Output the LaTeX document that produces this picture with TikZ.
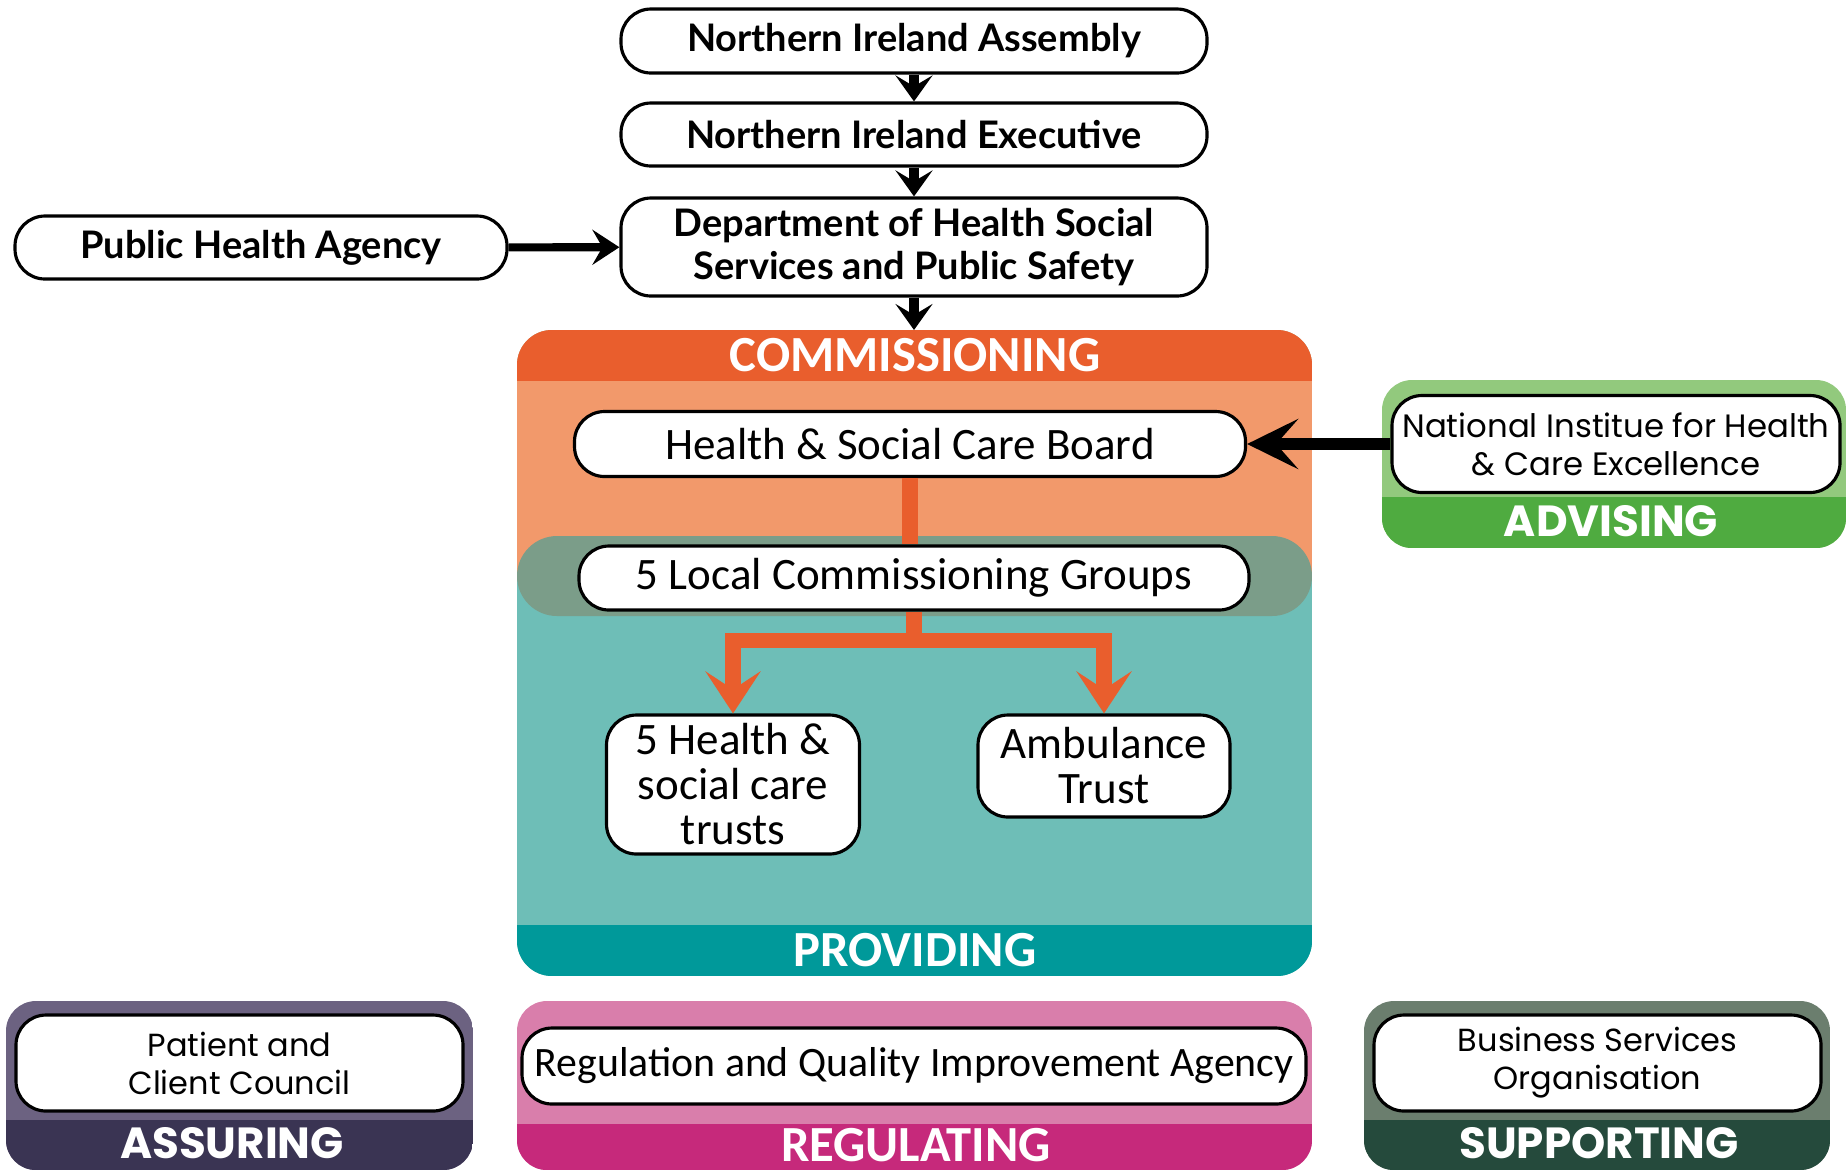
\documentclass[tikz,border=0pt]{standalone}
\usepackage{fontspec}
\setmainfont{Carlito}
\newfontfamily\latofont{Lato}
\newfontfamily\geofont{Poppins}
\usetikzlibrary{arrows.meta}
\usetikzlibrary{positioning}

\definecolor{commdark}{HTML}{E95E2D}
\definecolor{commlight}{HTML}{F2996B}
\definecolor{lcgband}{HTML}{7B9D89}
\definecolor{provlight}{HTML}{6EBEB7}
\definecolor{provdark}{HTML}{00999A}
\definecolor{advlight}{HTML}{92C97D}
\definecolor{advdark}{HTML}{4FAB40}
\definecolor{asslight}{HTML}{6C6281}
\definecolor{assdark}{HTML}{3A3453}
\definecolor{reglight}{HTML}{D97EAB}
\definecolor{regdark}{HTML}{C6297B}
\definecolor{suplight}{HTML}{6B7E6E}
\definecolor{supdark}{HTML}{254A3C}

\tikzset{
  topbox/.style={draw=black, line width=0.9pt, fill=white, rounded corners=0.3cm,
    minimum width=5.86cm, inner sep=0pt, align=center,
    font=\latofont\bfseries\fontsize{10.8}{12.3}\selectfont},
  orgbox/.style={draw=black, line width=0.9pt, fill=white, rounded corners=0.3cm,
    inner sep=0pt, align=center, font=\fontsize{12.8}{12.8}\selectfont},
  geobox/.style={orgbox, font=\geofont\fontsize{9.1}{10.8}\selectfont},
  bandtext/.style={text=white, inner sep=0pt, font=\bfseries\fontsize{14.4}{15}\selectfont},
  geoband/.style={text=white, inner sep=0pt, font=\geofont\bfseries\fontsize{12.4}{13}\selectfont},
  blackarr/.style={line width=2.6pt, -{Stealth[length=2.6mm, width=3.7mm, inset=1.1mm]}},
  sidearr/.style={line width=2.3pt, -{Stealth[length=2.7mm, width=3.5mm, inset=1mm]}},
  nicearr/.style={line width=3.6pt, -{Stealth[length=5.1mm, width=5mm, inset=2.2mm]}},
  orangeline/.style={draw=commdark, line width=4.3pt},
  orangearr/.style={orangeline, -{Stealth[length=4.2mm, width=5.5mm, inset=1.8mm]}}
}

\begin{document}
\begin{tikzpicture}
    \useasboundingbox (0,0) rectangle (18.48,-11.71);

    % commissioning / providing panel
    \begin{scope}
        \clip[rounded corners=0.35cm] (5.17,-3.30) rectangle (13.12,-9.76);
        \fill[provlight] (5.17,-3.30) rectangle (13.12,-9.76);
        \fill[commlight] (5.17,-3.30) rectangle (13.12,-5.76);
        \fill[commdark] (5.17,-3.30) rectangle (13.12,-3.81);
        \fill[provdark] (5.17,-9.25) rectangle (13.12,-9.76);
        \fill[lcgband, rounded corners=0.4cm] (5.17,-5.36) rectangle (13.12,-6.16);
    \end{scope}
    \coordinate (commtop) at (9.14,-3.30);
    \node (comm) at (9.15,-3.55) [bandtext] {COMMISSIONING};
    \node (prov) at (9.15,-9.50) [bandtext] {PROVIDING};

    % advising panel
    \begin{scope}
        \clip[rounded corners=0.3cm] (13.82,-3.80) rectangle (18.46,-5.48);
        \fill[advlight] (13.82,-3.80) rectangle (18.46,-5.48);
        \fill[advdark] (13.82,-4.97) rectangle (18.46,-5.48);
    \end{scope}
    \node (adv) at (16.11,-5.21) [geoband] {ADVISING};

    % bottom panels
    \begin{scope}
        \clip[rounded corners=0.3cm] (0.06,-10.01) rectangle (4.73,-11.70);
        \fill[asslight] (0.06,-10.01) rectangle (4.73,-11.70);
        \fill[assdark] (0.06,-11.20) rectangle (4.73,-11.70);
    \end{scope}
    \begin{scope}
        \clip[rounded corners=0.3cm] (5.17,-10.01) rectangle (13.12,-11.70);
        \fill[reglight] (5.17,-10.01) rectangle (13.12,-11.70);
        \fill[regdark] (5.17,-11.24) rectangle (13.12,-11.70);
    \end{scope}
    \begin{scope}
        \clip[rounded corners=0.3cm] (13.64,-10.01) rectangle (18.30,-11.70);
        \fill[suplight] (13.64,-10.01) rectangle (18.30,-11.70);
        \fill[supdark] (13.64,-11.20) rectangle (18.30,-11.70);
    \end{scope}
    \node (ass) at (2.32,-11.43) [geoband] {ASSURING};
    \node (reg) at (9.16,-11.45) [bandtext] {REGULATING};
    \node (sup) at (15.99,-11.43) [geoband] {SUPPORTING};

    % government chain
    \node (asm) at (9.14,-0.41) [topbox, minimum height=0.64cm] {Northern Ireland Assembly};
    \node (exe) at (9.14,-1.345) [topbox, minimum height=0.63cm] {Northern Ireland Executive};
    \node (dep) at (9.14,-2.47) [topbox, minimum height=0.98cm] {Department of Health Social\\Services and Public Safety};
    \node (pha) at (2.61,-2.475) [topbox, minimum width=4.92cm, minimum height=0.63cm] {Public Health Agency};
    \draw[blackarr] (asm) -- (exe);
    \draw[blackarr] (exe) -- (dep);
    \draw[blackarr] (dep) -- (commtop);
    \draw[sidearr] (pha) -- (dep);

    % commissioning and providing
    \node (hscb) at (9.10,-4.44) [orgbox, minimum width=6.71cm, minimum height=0.65cm] {Health \& Social Care Board};
    \node (lcg) at (9.14,-5.78) [orgbox, minimum width=6.70cm, minimum height=0.64cm] {5 Local Commissioning Groups};
    \node (trusts) at (7.33,-7.845) [orgbox, minimum width=2.53cm, minimum height=1.39cm] {5 Health \&\\social care\\trusts};
    \node (amb) at (11.04,-7.66) [orgbox, minimum width=2.52cm, minimum height=1.02cm] {Ambulance\\Trust};
    \draw[orangeline] (hscb.south) -- (hscb.south |- lcg.north);
    \draw[orangeline] (lcg.south) -- ++(0,-0.29) coordinate (fork);
    \draw[orangearr] (fork) -| (trusts.north);
    \draw[orangearr] (fork) -| (amb.north);

    % advising
    \node (nice) at (16.16,-4.44) [geobox, font=\geofont\fontsize{9.2}{10.8}\selectfont, minimum width=4.48cm, minimum height=0.97cm] {National Institue for Health\\\& Care Excellence};
    \draw[nicearr] (nice) -- (hscb);

    % assuring, regulating, supporting
    \node (pcc) at (2.395,-10.63) [geobox, minimum width=4.47cm, minimum height=0.96cm] {Patient and\\Client Council};
    \node (rqia) at (9.14,-10.66) [orgbox, font=\fontsize{11.9}{12}\selectfont, minimum width=7.84cm, minimum height=0.76cm] {Regulation and Quality Improvement Agency};
    \node (bso) at (15.975,-10.63) [geobox, minimum width=4.47cm, minimum height=0.96cm] {Business Services\\Organisation};
\end{tikzpicture}
\end{document}
